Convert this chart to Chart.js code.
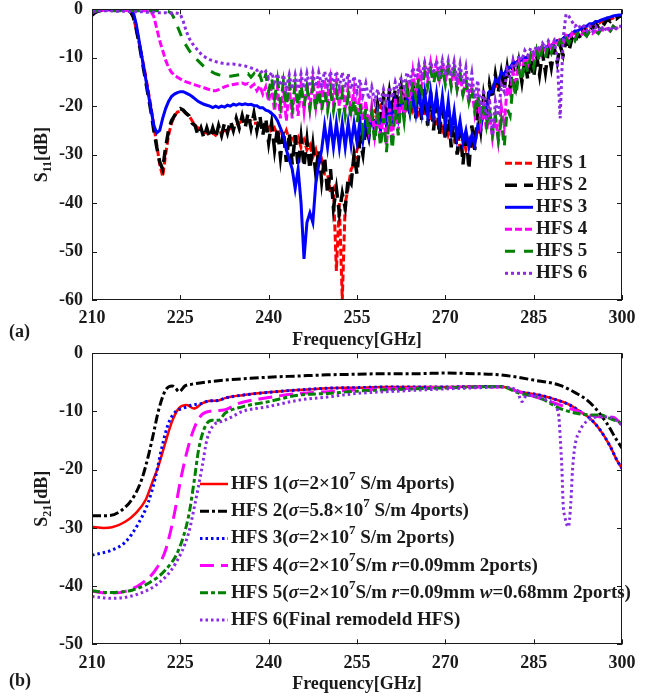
<!DOCTYPE html>
<html>
<head>
<meta charset="utf-8">
<script src="https://cdn.jsdelivr.net/npm/chart.js@4/dist/chart.umd.min.js"></script>
<style>
html, body { margin:0; padding:0; background:#fff; overflow:hidden; width:657px; height:698px; }
#wrapA { position:absolute; left:0; top:-20px; }
#wrapB { position:absolute; left:0; top:329px; }
</style>
</head>
<body>
<div id="wrapA"><canvas id="s11Chart" width="657" height="369"></canvas></div>
<div id="wrapB"><canvas id="s21Chart" width="657" height="369"></canvas></div>
<script>
// ---- data ----
// S11 sweep: 210..300 GHz, 0.5 GHz step
const freqS11 = Array.from({length: 181}, (_, i) => 210 + i * 0.5)

const s11Hfs1 = [-1.0,-0.6,-0.3,-0.2,-0.1,-0.1,-0.1,-0.1,-0.1,-0.1,
  -0.1,-0.1,-0.2,-0.5,-1.5,-4,-7,-10,-13,-16.5,
  -20,-24,-28,-32,-34.5,-30,-26,-23.5,-22,-21.2,
  -21,-21,-21.5,-22,-23,-24,-24.5,-25,-25.5,-25.5,
  -26,-25.5,-26,-25.5,-25.5,-25,-25,-24.5,-24,-24,
  -23.5,-23,-23,-23,-23,-23.5,-23.5,-24,-24.5,-25,
  -24,-25.5,-24.5,-26,-25,-26.5,-25,-27,-26,-28,
  -26.5,-28.5,-27,-29,-28,-30.5,-29,-32,-31,-34,
  -34,-38,-37,-54,-40,-60,-40,-37,-33,-32,
  -29,-27.5,-25,-24.5,-22.5,-23,-21,-21.5,-20,-21,
  -19.5,-20,-19,-20,-18.5,-20,-18.5,-20.5,-19,-21,
  -19.5,-21.5,-20,-22,-20.5,-23,-21.5,-24,-22.5,-25,
  -23.5,-26,-24.5,-27,-25.5,-28.5,-26.5,-29,-27,-28,
  -25.5,-26,-23,-22,-19.5,-18.5,-16.5,-16,-14.5,-14,
  -13,-12.5,-12,-11.5,-11,-10.5,-10.5,-10,-10,-9.5,
  -9.5,-9,-8.5,-8.5,-8,-7.5,-7.5,-7,-6.5,-6.5,
  -6,-5.5,-5.5,-5,-5,-4.5,-4.5,-4,-4,-3.5,
  -3.5,-3,-3,-2.5,-2.5,-2.2,-2,-1.8,-1.5,-1.5,
  -1.5]

const s11Hfs2 = [-1.2,-0.7,-0.4,-0.2,-0.1,-0.1,-0.1,-0.1,-0.1,-0.1,
  -0.1,-0.1,-0.1,-0.4,-1.5,-4,-7,-10.5,-14,-17.5,
  -21,-25,-28.5,-31.5,-33,-28.5,-25,-23,-22,-21,
  -20.5,-20.8,-21.5,-22,-23.5,-24,-26,-24.5,-26.5,-24.5,
  -26.5,-24.5,-26.5,-24,-26,-23.5,-25.5,-23,-25,-22.5,
  -24.5,-22,-24.5,-21.5,-24.5,-21.5,-25,-22,-26,-22.5,
  -27.5,-23.5,-29,-24.5,-30.5,-25,-31.5,-25.5,-32,-26,
  -32.5,-26.5,-32.5,-27,-33,-28,-34,-29,-35.5,-30.5,
  -38,-33,-41,-37,-42,-38,-41,-35,-36,-30,
  -34,-27,-30,-24,-26.5,-21.5,-24,-19.5,-22.5,-18,
  -21.5,-17,-21,-16.5,-21,-16,-21.5,-15.5,-22,-15.5,
  -22.5,-16,-23,-16.5,-24,-17,-25,-18,-26,-19,
  -27,-20.5,-28.5,-22,-30,-23.5,-32,-25,-33,-24,
  -29,-21,-25,-18,-22,-15.5,-18.5,-13.5,-17,-13,
  -16.5,-12,-16,-11.5,-15.5,-11,-15,-10.5,-14.5,-10,
  -14,-9.5,-13.5,-9,-13,-8.5,-12,-8,-11,-7.5,
  -9.5,-6.5,-8.5,-6,-7,-5,-6,-4,-5,-3.5,
  -4,-3,-3.5,-2.5,-3,-2,-2.5,-1.8,-2,-1.5,
  -1.3]

const s11Hfs3 = [-0.8,-0.4,-0.2,-0.1,-0.1,-0.1,-0.1,-0.1,-0.1,-0.1,
  -0.1,-0.1,-0.1,-0.2,-0.5,-3,-6.5,-10,-13.5,-17,
  -20.5,-24,-25.5,-25,-22.5,-20.5,-19,-18,-17.5,-17.2,
  -17,-17,-17.3,-17.6,-18,-18.5,-19,-19.3,-19.6,-19.8,
  -20,-20.3,-20,-20.3,-20,-20.2,-19.8,-20,-19.6,-19.8,
  -19.5,-19.7,-19.5,-19.7,-19.6,-19.9,-19.9,-20.3,-20.3,-20.8,
  -21,-21.5,-22,-23,-24.5,-26,-29,-31,-33,-37,
  -33,-40,-51.5,-44,-42,-44,-36,-32,-29,-24,
  -28.5,-23.5,-28.5,-23.5,-28.5,-23.5,-28.5,-23.5,-28,-23.5,
  -27.5,-23,-27,-22.5,-26,-21.5,-25.5,-21,-25,-20.5,
  -24,-19.5,-23,-19,-22.5,-18.5,-22,-18,-21.5,-17.5,
  -21.5,-17,-21.5,-17,-22,-17,-22,-17.5,-23,-18,
  -24,-19,-25,-21,-26.5,-23,-27.5,-25,-28.5,-26,
  -28,-24,-25,-20,-21,-17,-17,-14.5,-15,-13,
  -13.5,-12,-12,-11,-11,-10.5,-10.5,-10,-10,-9.5,
  -9.5,-9,-8.5,-8.5,-8,-7.5,-7.5,-7,-6.5,-6.5,
  -6,-5.5,-5.5,-5,-4.5,-4.5,-4,-3.5,-3.5,-3,
  -3,-2.5,-2.5,-2.2,-2,-1.8,-1.6,-1.4,-1.3,-1.2,
  -1.2]

const s11Hfs4 = [-0.7,-0.4,-0.3,-0.3,-0.2,-0.2,-0.2,-0.2,-0.2,-0.2,
  -0.2,-0.2,-0.2,-0.2,-0.2,-0.2,-0.2,-0.3,-0.3,-0.3,
  -0.4,-1.5,-4,-6.5,-8.5,-10.5,-12,-13,-13.6,-14,
  -14.4,-14.7,-15,-15.2,-15.4,-15.6,-15.8,-16,-16.2,-16.4,
  -16.6,-16.8,-16.8,-16.6,-16.3,-16,-15.8,-15.6,-15.5,-15.4,
  -15.3,-15.2,-15.5,-15.3,-16,-15.5,-16.8,-15.8,-17.5,-16,
  -19,-16,-21,-16,-22.5,-16,-23,-16,-22.5,-15.5,
  -22,-15.5,-21,-15,-20.5,-14.5,-20,-14.5,-19.5,-14.5,
  -19.5,-14.5,-19.5,-15,-20,-15.5,-20.5,-16,-21,-16.5,
  -22,-17.5,-23,-19,-24.5,-20,-26,-21,-27,-21.5,
  -28,-20.5,-27.5,-18.5,-25,-16.5,-22,-14.5,-19.5,-13,
  -17.5,-12,-16,-11.5,-15,-11,-14.5,-11,-14.5,-11,
  -15,-11.5,-15.5,-12,-16.5,-13,-18,-14.5,-19.5,-16,
  -21.5,-18,-23.5,-20,-25,-21.5,-26.5,-22,-27,-20,
  -24,-16,-18,-13,-15,-11,-13,-10,-11.5,-9,
  -10.5,-8,-9.5,-7.5,-8.5,-7,-8,-6.5,-7.5,-6,
  -7,-5.5,-6.5,-5,-6,-5,-5.5,-4.5,-5.5,-4.5,
  -5,-4.5,-5,-4,-4.5,-4,-4.5,-3.5,-4,-3.5,
  -3.5]

const s11Hfs5 = [-0.5,-0.3,-0.3,-0.3,-0.3,-0.3,-0.3,-0.3,-0.3,-0.3,
  -0.3,-0.3,-0.3,-0.3,-0.3,-0.3,-0.3,-0.3,-0.3,-0.3,
  -0.3,-0.3,-0.3,-0.3,-0.4,-0.4,-0.5,-0.8,-2,-3.5,
  -5,-6.5,-7.5,-8.5,-9.3,-10,-10.6,-11.2,-11.8,-12.3,
  -12.7,-13,-13.3,-13.5,-13.6,-13.7,-13.8,-13.8,-13.7,-13.6,
  -13.5,-13.4,-13.5,-13.3,-14,-13.3,-14.5,-13.5,-15.5,-13.5,
  -17,-14,-18.5,-14.5,-19.5,-15,-20,-15,-20,-15.5,
  -20,-15.5,-20,-16,-20.5,-16,-21,-16.5,-21,-17,
  -21,-17,-21,-17,-21.5,-17.5,-22,-18,-22.5,-18.5,
  -23.5,-19.5,-25,-20.5,-26,-21.5,-27.5,-22,-28.5,-22.5,
  -29.5,-22,-29,-20.5,-26,-18.5,-23,-16.5,-20.5,-15,
  -18.5,-14,-17,-13,-16,-12.5,-15.5,-12,-15.5,-12,
  -15.5,-12,-16,-12.5,-16.5,-13.5,-17.5,-14.5,-19,-16,
  -20.5,-17.5,-22,-19,-24,-20.5,-25.5,-22,-27,-23,
  -28.5,-20.5,-22,-15.5,-18,-12.5,-15,-10.5,-13,-9.5,
  -12,-8.5,-11,-8,-10,-7.5,-9,-7,-8,-6.5,
  -7.5,-6,-7,-5.5,-6.5,-5,-6,-5,-5.5,-4.5,
  -5,-4.5,-5,-4,-4.5,-4,-4.5,-3.5,-4,-3.5,
  -3.5]

const s11Hfs6 = [-0.3,-0.3,-0.3,-0.3,-0.3,-0.3,-0.3,-0.3,-0.4,-0.4,
  -0.4,-0.4,-0.4,-0.5,-0.5,-0.5,-0.5,-0.5,-0.6,-0.6,
  -0.6,-0.6,-0.7,-0.7,-0.7,-0.7,-0.8,-0.8,-0.7,-0.8,
  -1,-2.5,-4.5,-6,-7,-7.8,-8.5,-9.2,-9.7,-10.1,
  -10.4,-10.6,-10.8,-11,-11.1,-11.2,-11.3,-11.3,-11.3,-11.4,
  -11.5,-11.6,-11.7,-11.9,-12.1,-12.3,-12.6,-12.4,-13.3,-12.8,
  -14.2,-13,-15,-13.3,-15.8,-13.5,-16.3,-13.5,-16.5,-13.5,
  -16.5,-13.3,-16.3,-13.2,-16,-13,-16,-13,-15.8,-12.8,
  -15.8,-12.8,-15.8,-12.8,-16,-13,-16.2,-13.3,-16.5,-13.8,
  -17,-14.5,-17.8,-15.3,-18.5,-16,-19,-16.5,-19.3,-16.5,
  -19,-16,-18.3,-15,-17,-14,-16,-13,-15,-12,
  -14.3,-11.5,-13.8,-11,-13.5,-10.8,-13.3,-10.6,-13.3,-10.5,
  -13.5,-10.6,-13.8,-10.8,-14.5,-11.3,-15.5,-12,-16.8,-13.2,
  -18.5,-14.7,-20.5,-16.5,-23,-18.5,-26,-19,-22,-15.5,
  -17,-12.5,-14,-10.5,-12,-9.5,-10.5,-8.5,-9.5,-8,
  -9,-7.5,-8.5,-7,-8,-6.5,-7.5,-6.5,-10,-22.5,
  -6,-1,-1.5,-2.5,-3.5,-3,-4,-3.5,-4.5,-3.5,
  -4.5,-3.5,-4.5,-3.5,-4.5,-3.5,-4.5,-3.5,-4,-3.5,
  -3.5]

// S21: [frequency GHz, dB]
const s21Hfs1 = [[210,-29.8],[212,-30],[213.4,-29.9],[215.7,-28.9],[217.4,-27.5],[219.1,-25.2],[220.2,-22.3],
  [221.3,-19.3],[222.5,-15.2],[223.6,-11.7],[224.7,-9.5],[226.1,-8.9],[227.3,-9.5],[228.7,-8.6],[229.8,-8.2],
  [231.5,-8.1],[232.6,-7.7],[235.5,-7.2],[240,-6.7],[245,-6.3],[250,-6],[255,-5.9],[260,-5.8],[265,-5.8],
  [270,-5.8],[275,-5.7],[279.3,-5.7],[282.7,-6.6],[286.1,-7.2],[288.9,-8],[291.2,-8.9],[292.9,-10],
  [294.6,-11.2],[296.3,-13.2],[298,-16],[299.1,-18.3],[300,-19.8]]
const s21Hfs2 = [[210,-27.9],[212.8,-27.9],[215.7,-26.4],[217.4,-24.1],[218.5,-21.5],[219.6,-17.5],[220.5,-13.5],
  [221.3,-9.8],[222.5,-6.3],[223.6,-5.6],[224.2,-6],[224.8,-6.6],[225.8,-5.6],[227,-5.3],[229.8,-4.9],
  [232.6,-4.6],[235.5,-4.4],[240,-4.1],[245,-3.9],[250,-3.7],[255,-3.6],[260,-3.5],[265,-3.5],[270,-3.4],
  [275,-3.5],[279.3,-3.7],[285,-4.6],[289.5,-5.5],[292.3,-6.9],[294,-8],[295.7,-9.7],[297.4,-12],
  [299.1,-14.9],[300,-16.3]]
const s21Hfs3 = [[210,-34.7],[213.4,-33.8],[215.7,-32.4],[217.9,-29.2],[219.6,-25.5],[220.8,-21.2],[221.9,-16],
  [223,-12],[224.2,-10],[225.3,-9.5],[227,-8.9],[228.7,-8.6],[229.8,-8.2],[231.5,-8.1],[232.6,-7.7],
  [235.5,-7.2],[240,-6.7],[245,-6.3],[250,-6],[255,-5.9],[260,-5.8],[270,-5.8],[275,-5.7],[279.3,-5.7],
  [282.7,-6.6],[286.1,-7.2],[288.9,-8],[291.2,-8.9],[292.9,-10],[294.6,-11.2],[296.3,-13.2],[298,-16],
  [299.1,-18.3],[300,-19.8]]
const s21Hfs4 = [[210,-40.9],[212.8,-41.2],[215.7,-40.9],[218.5,-39.5],[220.8,-37.2],[222.5,-33.8],[223.9,-28],
  [225,-22],[226.1,-17],[227.3,-13],[228.7,-10.5],[230.4,-9.9],[232.6,-9.7],[234.9,-8.6],[240,-7.6],
  [245,-6.9],[250,-6.6],[255,-6.3],[265,-6],[275,-5.8],[279.3,-5.8],[282.7,-6.7],[287.8,-8.3],
  [291.2,-9.5],[294,-10.5],[296.3,-10.9],[298.5,-11],[300,-12.3]]
const s21Hfs5 = [[210,-40.8],[212.8,-41.1],[216.8,-40.7],[219.6,-39.5],[222.5,-37.2],[224.7,-33.8],[226.4,-28],
  [227.3,-22.3],[228.1,-16.6],[229.2,-12.6],[230.4,-11.5],[231.5,-11.5],[232.6,-10.3],[235.5,-9.2],
  [240,-8.3],[245,-7.2],[250,-6.9],[255,-6.5],[265,-6.1],[275,-5.8],[279.3,-5.7],[282.7,-6.9],
  [286.1,-7.7],[289.5,-9.5],[292.3,-10.3],[295.1,-10.6],[296.3,-10.6],[298,-11.2],[300,-12]]
const s21Hfs6 = [[210,-41.8],[213.4,-42.1],[217.4,-41.5],[221.3,-39.5],[224.2,-36.1],[226.4,-30.9],[227.5,-25.8],
  [228.7,-19.5],[229.5,-14.9],[230.7,-12.3],[232.1,-11.7],[233.8,-10.9],[235.5,-10],[239.7,-9.2],
  [245.4,-8],[250,-7.5],[255,-6.9],[262,-6.5],[268,-6.2],[276,-5.9],[279.3,-5.8],[282.1,-6.3],[283,-8.3],
  [283.8,-7.2],[287.8,-8.3],[289.2,-10.3],[289.5,-14.3],[289.8,-20],[290,-25.8],[290.3,-28.1],
  [290.9,-29.8],[291.3,-25.8],[291.6,-20],[292,-16],[292.9,-13.2],[294,-11.7],[296.3,-10.9],
  [298.5,-11.2],[300,-12.3]]

const s11Labels = ['HFS 1','HFS 2','HFS 3','HFS 4','HFS 5','HFS 6']
// legend text pieces: n = normal, i = italic, sup = superscript
const s21Labels = [
  [['HFS 1(','n'],['σ','i'],['=2×10','n'],['7','sup'],[' S/m 4ports)','n']],
  [['HFS 2(','n'],['σ','i'],['=5.8×10','n'],['7','sup'],[' S/m 4ports)','n']],
  [['HFS 3(','n'],['σ','i'],['=2×10','n'],['7','sup'],[' S/m 2ports)','n']],
  [['HFS 4(','n'],['σ','i'],['=2×10','n'],['7','sup'],['S/m ','n'],['r','i'],['=0.09mm 2ports)','n']],
  [['HFS 5(','n'],['σ','i'],['=2×10','n'],['7','sup'],['S/m ','n'],['r','i'],['=0.09mm ','n'],['w','i'],['=0.68mm 2ports)','n']],
  [['HFS 6(Final remodeld HFS)','n']]
]

// ---- styling ----
const FONT = '"Liberation Serif", "Times New Roman", serif'
const INK = '#1a1a1a'
const tickFont = {family: FONT, size: 18, weight: 'bold'}

function line(label, pts, color, dash, width, order, mono) {
  return {
    label: label, data: pts, borderColor: color, borderDash: dash, borderWidth: width,
    pointRadius: 0, fill: false, order: order, tension: 0, borderCapStyle: 'butt',
    borderJoinStyle: 'miter', cubicInterpolationMode: mono ? 'monotone' : 'default'
  }
}
const zipS11 = vals => vals.map((v, i) => ({x: freqS11[i], y: v}))
const zipS21 = pairs => pairs.map(p => ({x: p[0], y: p[1]}))

function drawText(ctx, pieces, x, y, size) {
  pieces.forEach(([t, s]) => {
    if (s === 'sup') {
      ctx.font = 'bold ' + Math.round(size * 0.68) + 'px ' + FONT
      ctx.fillText(t, x, y - size * 0.4)
    } else {
      ctx.font = (s === 'i' ? 'italic ' : '') + 'bold ' + size + 'px ' + FONT
      ctx.fillText(t, x, y)
    }
    x += ctx.measureText(t).width
  })
}

// frame, inward ticks, axis titles, legend
function decorPlugin(o) {
  return {
    id: 'decor',
    afterDraw(chart) {
      const {ctx, chartArea: a, scales: {x, y}} = chart
      const dy = -o.offsetY
      ctx.save()
      ctx.strokeStyle = INK
      ctx.lineWidth = 1
      ctx.setLineDash([])
      ctx.strokeRect(Math.round(a.left) + 0.5, Math.round(a.top) + 0.5,
        Math.round(a.right - a.left) - 1, Math.round(a.bottom - a.top) - 1)
      ctx.beginPath()
      x.ticks.forEach(t => {
        const px = Math.round(x.getPixelForValue(t.value)) + 0.5
        ctx.moveTo(px, a.bottom); ctx.lineTo(px, a.bottom - 5)
        ctx.moveTo(px, a.top); ctx.lineTo(px, a.top + 5)
      })
      y.ticks.forEach(t => {
        const py = Math.round(y.getPixelForValue(t.value)) + 0.5
        ctx.moveTo(a.left, py); ctx.lineTo(a.left + 5, py)
        ctx.moveTo(a.right, py); ctx.lineTo(a.right - 5, py)
      })
      ctx.stroke()

      ctx.fillStyle = INK
      ctx.textBaseline = 'middle'
      // x title
      ctx.textAlign = 'center'
      ctx.font = 'bold 18px ' + FONT
      ctx.fillText('Frequency[GHz]', (a.left + a.right) / 2, o.xTitleY + dy)
      // panel tag
      ctx.textAlign = 'left'
      ctx.fillText(o.tag, 9, o.tagY + dy)
      // y title with subscript
      ctx.save()
      ctx.translate(42, (a.top + a.bottom) / 2)
      ctx.rotate(-Math.PI / 2)
      ctx.font = 'bold 18px ' + FONT
      const wS = ctx.measureText('S').width
      const wD = ctx.measureText('[dB]').width
      ctx.font = 'bold 12px ' + FONT
      const wSub = ctx.measureText(o.sub).width
      let sx = -(wS + wSub + wD) / 2
      ctx.font = 'bold 18px ' + FONT
      ctx.fillText('S', sx, 0); sx += wS
      ctx.font = 'bold 12px ' + FONT
      ctx.fillText(o.sub, sx, 6); sx += wSub
      ctx.font = 'bold 18px ' + FONT
      ctx.fillText('[dB]', sx, 0)
      ctx.restore()

      // legend
      chart.data.datasets.forEach((ds, i) => {
        const ly = o.legY + i * o.legStep + dy
        ctx.beginPath()
        ctx.strokeStyle = ds.borderColor
        ctx.lineWidth = ds.borderWidth
        ctx.setLineDash(ds.borderDash || [])
        ctx.moveTo(o.legX0, ly); ctx.lineTo(o.legX1, ly)
        ctx.stroke()
        ctx.setLineDash([])
        ctx.fillStyle = INK
        drawText(ctx, o.labels[i], o.legX1 + 3, ly, 19)
      })
      ctx.restore()
    }
  }
}

function baseOptions(yMin, padTop, padBottom) {
  return {
    responsive: false, animation: false, devicePixelRatio: 1,
    layout: {padding: {top: padTop, right: 35, bottom: padBottom, left: 0}},
    plugins: {legend: {display: false}, tooltip: {enabled: false}},
    scales: {
      x: {
        type: 'linear', min: 210, max: 300,
        ticks: {stepSize: 15, font: tickFont, color: INK, padding: 8, maxRotation: 0},
        grid: {display: false, drawTicks: false}, border: {display: false},
        afterFit: s => { s.height = 40 }
      },
      y: {
        type: 'linear', min: yMin, max: 0,
        ticks: {stepSize: 10, font: tickFont, color: INK, padding: 9},
        grid: {display: false, drawTicks: false}, border: {display: false},
        afterFit: s => { s.width = 92 }
      }
    }
  }
}

// ---- (a) S11 ----
new Chart(document.getElementById('s11Chart'), {
  type: 'line',
  data: {
    datasets: [
      line(s11Labels[0], zipS11(s11Hfs1), '#ff0000', [7, 3], 3, 5),
      line(s11Labels[1], zipS11(s11Hfs2), '#000000', [12, 7], 3.5, 4),
      line(s11Labels[2], zipS11(s11Hfs3), '#0000ff', [], 3, 3),
      line(s11Labels[3], zipS11(s11Hfs4), '#ff00ff', [7, 3], 3, 2),
      line(s11Labels[4], zipS11(s11Hfs5), '#008000', [10, 9], 3, 1),
      line(s11Labels[5], zipS11(s11Hfs6), '#8a2be2', [3, 3], 3, 0)
    ]
  },
  options: baseOptions(-60, 29.3, 9),
  plugins: [decorPlugin({
    offsetY: -20, sub: '11', tag: '(a)', tagY: 332, xTitleY: 340,
    legX0: 505, legX1: 533, legY: 163.3, legStep: 22,
    labels: s11Labels.map(t => [[t, 'n']])
  })]
})

// ---- (b) S21 ----
new Chart(document.getElementById('s21Chart'), {
  type: 'line',
  data: {
    datasets: [
      line('HFS 1', zipS21(s21Hfs1), '#ff0000', [], 2.5, 5, true),
      line('HFS 2', zipS21(s21Hfs2), '#000000', [9, 3, 3, 3], 3, 4, true),
      line('HFS 3', zipS21(s21Hfs3), '#0000ff', [2.5, 3], 3, 3, true),
      line('HFS 4', zipS21(s21Hfs4), '#ff00ff', [14, 7], 3, 2, true),
      line('HFS 5', zipS21(s21Hfs5), '#008000', [8, 3, 4, 3], 3, 1, true),
      line('HFS 6', zipS21(s21Hfs6), '#8a2be2', [2.5, 3], 3, 0, true)
    ]
  },
  options: baseOptions(-50, 24.3, 13.7),
  plugins: [decorPlugin({
    offsetY: 329, sub: '21', tag: '(b)', tagY: 681, xTitleY: 684,
    legX0: 200, legX1: 228, legY: 484, legStep: 27.2,
    labels: s21Labels
  })]
})
</script>
</body>
</html>
